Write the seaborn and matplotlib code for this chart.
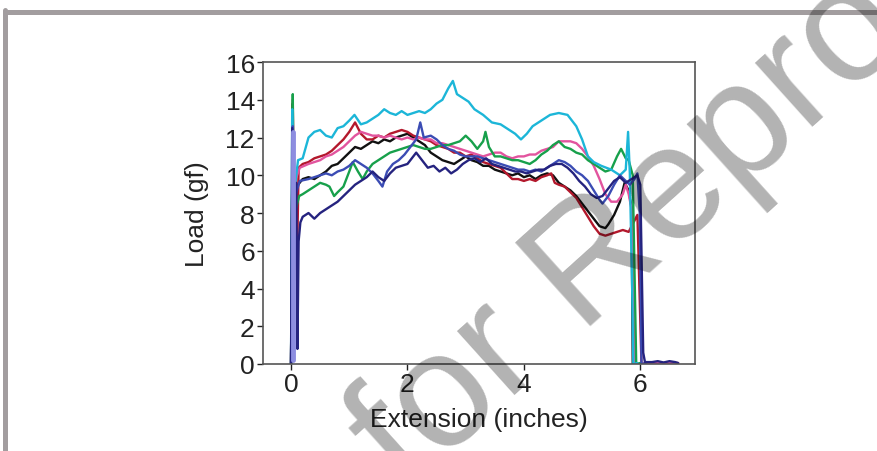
import pandas as pd
import seaborn as sns
import matplotlib.pyplot as plt
from matplotlib.lines import Line2D

# Load curves (extension in inches, load in gf)
cyan_x = [0, 0.02, 0.04, 0.07, 0.12, 0.2, 0.3, 0.4, 0.5, 0.6, 0.7, 0.8, 0.9, 1.0, 1.09, 1.2, 1.3, 1.4, 1.5,
          1.6, 1.7, 1.8, 1.9, 2.0, 2.1, 2.2, 2.3, 2.4, 2.5, 2.6, 2.7, 2.78, 2.85, 2.95, 3.05, 3.15, 3.3, 3.45,
          3.6, 3.75, 3.85, 3.95, 4.05, 4.15, 4.3, 4.45, 4.6, 4.75, 4.9, 5.0, 5.1, 5.2, 5.33, 5.5, 5.65, 5.75,
          5.79, 5.82, 5.86, 5.88, 5.95]
cyan_y = [0, 13.5, 5.0, 9.5, 10.8, 10.9, 12.0, 12.3, 12.4, 12.1, 12.0, 12.5, 12.6, 12.9, 13.2, 12.7, 12.8, 13.0, 13.2,
          13.5, 13.3, 13.2, 13.4, 13.2, 13.3, 13.4, 13.3, 13.5, 13.8, 14.0, 14.6, 15.0, 14.3, 14.1, 13.9, 13.5, 13.2, 12.8,
          12.7, 12.4, 12.2, 11.9, 12.2, 12.6, 12.9, 13.2, 13.3, 13.2, 12.6, 11.9, 11.0, 10.7, 10.5, 10.3, 10.0, 10.3,
          12.3, 10.1, 4.0, 0.0, 0.05]

red_x = [0, 0.03, 0.05, 0.08, 0.1, 0.13, 0.2, 0.3, 0.4, 0.5, 0.6, 0.7, 0.8, 0.9, 1.0, 1.1, 1.2, 1.3, 1.4, 1.5, 1.6,
         1.7, 1.8, 1.9, 2.0, 2.1, 2.2, 2.3, 2.4, 2.5, 2.6, 2.7, 2.8, 2.9, 3.0, 3.1, 3.2, 3.3, 3.4, 3.5, 3.6, 3.7,
         3.8, 3.9, 4.0, 4.1, 4.2, 4.3, 4.4, 4.47, 4.53, 4.6, 4.7, 4.8, 4.9, 5.0, 5.1, 5.2, 5.3, 5.4, 5.5, 5.6,
         5.7, 5.8, 5.9, 5.95, 5.97, 6.02, 6.3, 6.65]
red_y = [0, 14.0, 4.4, 9.0, 5.0, 10.4, 10.6, 10.7, 10.9, 11.0, 11.1, 11.3, 11.6, 11.9, 12.3, 12.8, 12.2, 11.9, 11.9,
         12.1, 12.0, 12.2, 12.3, 12.4, 12.3, 12.1, 12.0, 11.9, 11.8, 11.6, 11.5, 11.4, 11.2, 11.2, 11.0, 11.1, 10.9,
         10.7, 10.6, 10.5, 10.4, 10.1, 9.8, 9.8, 9.7, 9.8, 9.7, 9.9, 10.0, 10.1, 9.6, 9.5, 9.4, 9.1, 8.8, 8.3, 7.8,
         7.3, 6.9, 6.8, 6.9, 7.0, 7.1, 7.0, 7.6, 7.9, 5.7, 0.0, 0.05, 0.05]

black_x = [0, 0.03, 0.05, 0.08, 0.12, 0.2, 0.3, 0.4, 0.5, 0.6, 0.7, 0.8, 0.9, 1.0, 1.1, 1.2, 1.3, 1.4, 1.5, 1.6,
           1.7, 1.8, 1.9, 2.0, 2.1, 2.2, 2.3, 2.4, 2.5, 2.6, 2.7, 2.8, 2.9, 3.0, 3.1, 3.2, 3.3, 3.4, 3.5, 3.6,
           3.7, 3.8, 3.9, 4.0, 4.1, 4.2, 4.3, 4.4, 4.5, 4.6, 4.7, 4.8, 4.9, 5.0, 5.1, 5.2, 5.3, 5.4, 5.45, 5.55,
           5.65, 5.73, 5.8, 5.85, 5.87, 5.92]
black_y = [0, 13.8, 5.8, 9.0, 9.5, 9.8, 9.9, 9.8, 10.0, 10.2, 10.5, 10.6, 10.9, 11.2, 11.5, 11.4, 11.6, 11.8, 11.7,
           11.9, 11.8, 12.0, 12.1, 12.2, 12.0, 11.8, 11.6, 11.2, 11.0, 10.8, 10.7, 10.6, 10.8, 11.0, 10.8, 10.7, 10.5,
           10.5, 10.3, 10.2, 10.1, 10.0, 10.1, 9.9, 10.0, 9.8, 10.0, 10.1, 10.0, 9.6, 9.4, 9.2, 8.9, 8.5, 8.1, 7.7,
           7.3, 7.2, 7.4, 7.9, 8.6, 9.6, 9.2, 8.3, 0.0, 0.05]

pink_x = [0, 0.03, 0.05, 0.08, 0.15, 0.3, 0.4, 0.5, 0.6, 0.7, 0.8, 0.9, 1.0, 1.1, 1.2, 1.3, 1.4, 1.5, 1.6, 1.7,
          1.8, 1.9, 2.0, 2.1, 2.2, 2.3, 2.4, 2.5, 2.6, 2.7, 2.8, 2.9, 3.0, 3.1, 3.2, 3.3, 3.4, 3.5, 3.6, 3.7, 3.8,
          3.9, 4.0, 4.1, 4.2, 4.3, 4.4, 4.5, 4.6, 4.7, 4.8, 4.9, 5.0, 5.1, 5.2, 5.3, 5.4, 5.5, 5.6, 5.7, 5.75,
          5.8, 5.85, 5.9, 6.3, 6.65]
pink_y = [0, 12.9, 5.5, 9.8, 10.4, 10.6, 10.7, 10.8, 11.0, 11.1, 11.3, 11.5, 11.8, 12.1, 12.3, 12.2, 12.1, 12.1, 12.0,
          12.1, 12.0, 11.9, 12.0, 11.9, 12.0, 11.9, 11.9, 11.7, 11.7, 11.6, 11.5, 11.4, 11.3, 11.2, 11.1, 11.0, 11.1,
          11.2, 11.2, 11.0, 10.9, 11.0, 11.0, 11.1, 11.1, 11.3, 11.4, 11.5, 11.8, 11.8, 11.8, 11.7, 11.4, 11.0, 10.5,
          9.8, 9.0, 8.6, 8.6, 9.0, 9.5, 9.0, 8.2, 0.0, 0.05, 0.05]

green_x = [0, 0.03, 0.05, 0.08, 0.14, 0.2, 0.3, 0.4, 0.5, 0.6, 0.66, 0.74, 0.8, 0.9, 1.0, 1.06, 1.15, 1.23, 1.3,
           1.4, 1.5, 1.6, 1.7, 1.8, 1.9, 2.0, 2.1, 2.2, 2.3, 2.4, 2.5, 2.6, 2.7, 2.8, 2.9, 3.0, 3.1, 3.2, 3.3,
           3.34, 3.4, 3.5, 3.6, 3.7, 3.8, 3.9, 4.0, 4.1, 4.2, 4.3, 4.4, 4.5, 4.6, 4.7, 4.8, 4.9, 5.0, 5.1, 5.2,
           5.3, 5.4, 5.5, 5.6, 5.67, 5.75, 5.8, 5.87, 5.93, 6.0]
green_y = [0, 14.3, 5.3, 8.2, 8.9, 9.0, 9.2, 9.4, 9.6, 9.5, 9.4, 8.9, 9.1, 9.4, 10.2, 10.7, 10.2, 9.8, 10.2,
           10.6, 10.8, 11.0, 11.2, 11.3, 11.4, 11.5, 11.6, 11.5, 11.4, 11.4, 11.5, 11.6, 11.6, 11.7, 11.8, 12.1, 11.8,
           11.4, 11.8, 12.3, 11.5, 11.0, 11.0, 10.9, 10.8, 10.8, 10.7, 10.6, 10.8, 11.1, 11.3, 11.6, 11.8, 11.5, 11.4,
           11.2, 11.1, 10.8, 10.6, 10.4, 10.2, 10.3, 11.0, 11.4, 10.9, 10.8, 10.0, 0.0, 0.05]

blue_x = [0, 0.03, 0.05, 0.08, 0.15, 0.3, 0.4, 0.5, 0.6, 0.7, 0.8, 0.9, 1.0, 1.1, 1.2, 1.3, 1.4, 1.5, 1.57, 1.65,
          1.75, 1.85, 1.95, 2.05, 2.15, 2.22, 2.28, 2.4, 2.5, 2.6, 2.7, 2.8, 2.9, 3.0, 3.1, 3.2, 3.3, 3.4, 3.5,
          3.6, 3.7, 3.8, 3.9, 4.0, 4.1, 4.2, 4.3, 4.4, 4.5, 4.6, 4.7, 4.8, 4.9, 5.0, 5.1, 5.2, 5.3, 5.35, 5.45,
          5.55, 5.65, 5.75, 5.82, 5.9, 5.95, 5.99, 6.02, 6.1]
blue_y = [0, 12.6, 5.0, 9.0, 9.7, 9.8, 9.9, 10.0, 10.1, 10.0, 10.2, 10.3, 10.5, 10.8, 10.6, 10.4, 10.1, 9.7, 9.4, 10.2,
          10.6, 10.8, 11.1, 11.5, 11.9, 12.8, 12.0, 12.1, 11.9, 11.6, 11.4, 11.3, 11.1, 11.0, 11.0, 11.0, 10.9, 10.8,
          10.7, 10.6, 10.5, 10.4, 10.3, 10.3, 10.2, 10.3, 10.2, 10.4, 10.6, 10.8, 10.7, 10.5, 10.2, 10.0, 9.7, 9.2,
          8.7, 8.5, 8.9, 9.5, 10.0, 9.7, 9.5, 9.8, 10.1, 8.0, 0.0, 0.05]

navy_x = [0, 0.02, 0.05, 0.09, 0.11, 0.13, 0.16, 0.2, 0.3, 0.4, 0.5, 0.6, 0.7, 0.8, 0.9, 1.0, 1.1, 1.2, 1.3, 1.4,
          1.5, 1.6, 1.7, 1.8, 1.9, 2.0, 2.1, 2.15, 2.25, 2.35, 2.45, 2.55, 2.65, 2.75, 2.85, 2.95, 3.05, 3.15,
          3.25, 3.35, 3.45, 3.55, 3.65, 3.75, 3.85, 3.95, 4.05, 4.15, 4.25, 4.35, 4.45, 4.55, 4.65, 4.75, 4.85,
          4.95, 5.05, 5.15, 5.25, 5.35, 5.45, 5.55, 5.65, 5.75, 5.85, 5.95, 6.0, 6.05, 6.08, 6.2, 6.3, 6.4, 6.5,
          6.6, 6.65]
navy_y = [0, 12.5, 5.2, 9.6, 0.8, 6.5, 7.5, 7.8, 8.0, 7.7, 8.0, 8.2, 8.4, 8.6, 8.9, 9.2, 9.5, 9.7, 9.9, 10.2,
          9.9, 9.7, 10.1, 10.4, 10.5, 10.6, 11.0, 11.2, 10.8, 10.4, 10.5, 10.2, 10.4, 10.1, 10.3, 10.6, 10.8, 10.9,
          10.7, 10.9, 10.6, 10.5, 10.4, 10.3, 10.2, 10.2, 10.1, 10.2, 10.3, 10.3, 10.5, 10.6, 10.6, 10.4, 10.1,
          9.7, 9.4, 9.0, 8.8, 8.9, 9.3, 9.7, 9.9, 9.6, 9.8, 10.0, 9.5, 0.6, 0.1, 0.1, 0.15, 0.08, 0.15, 0.1, 0.05]

lav_x = [0.03, 0.03]
lav_y = [0.2, 12.3]

names = ["black", "red", "pink", "green", "cyan", "blue", "navy"]
colors = ["#111111", "#b3182c", "#e2549e", "#17a04b", "#1cb6d8", "#3b4cb4", "#25237f"]
xs = [black_x, red_x, pink_x, green_x, cyan_x, blue_x, navy_x]
ys = [black_y, red_y, pink_y, green_y, cyan_y, blue_y, navy_y]

frames = [pd.DataFrame({"x": x, "y": y, "series": n}) for n, x, y in zip(names, xs, ys)]
df = pd.concat(frames, ignore_index=True)

sns.set_style("ticks")
plt.rcParams["font.family"] = ["Liberation Sans", "DejaVu Sans"]

fig = plt.figure(figsize=(8.77, 4.52), dpi=100)
ax = fig.add_axes([0.300, 0.1925, 0.4925, 0.668])

sns.lineplot(data=df, x="x", y="y", hue="series", hue_order=names, palette=colors,
             sort=False, estimator=None, lw=1.7, legend=False, ax=ax)
sns.lineplot(x=lav_x, y=lav_y, color="#8d8ee0", lw=3.5, sort=False, estimator=None, ax=ax)

ax.set_xlim(-0.48, 6.94)
ax.set_ylim(0, 16)
ax.set_xticks([0, 2, 4, 6])
ax.set_yticks(range(0, 17, 2))
ax.set_xlabel("Extension (inches)", fontsize=19, color="#222222", labelpad=8)
ax.set_ylabel("Load (gf)", fontsize=19, color="#222222", labelpad=12)
ax.tick_params(labelsize=19, colors="#222222", length=4, width=1, pad=2)
for s in ax.spines.values():
    s.set_color("#555555")
    s.set_linewidth(1.2)

# page frame
fig.add_artist(Line2D([5 / 877, 1], [1 - 12.5 / 452, 1 - 12.5 / 452], color="#a29d9f", lw=3.6))
fig.add_artist(Line2D([5 / 877, 5 / 877], [0, 1 - 11 / 452], color="#a29d9f", lw=3.6))

# watermark
fig.text(405 / 877, 1 - 494 / 452, "for Repro", fontsize=118, rotation=42, color="black", alpha=0.3,
         rotation_mode="anchor", ha="left", va="baseline", zorder=10)

fig.savefig("out.png", dpi=100)
